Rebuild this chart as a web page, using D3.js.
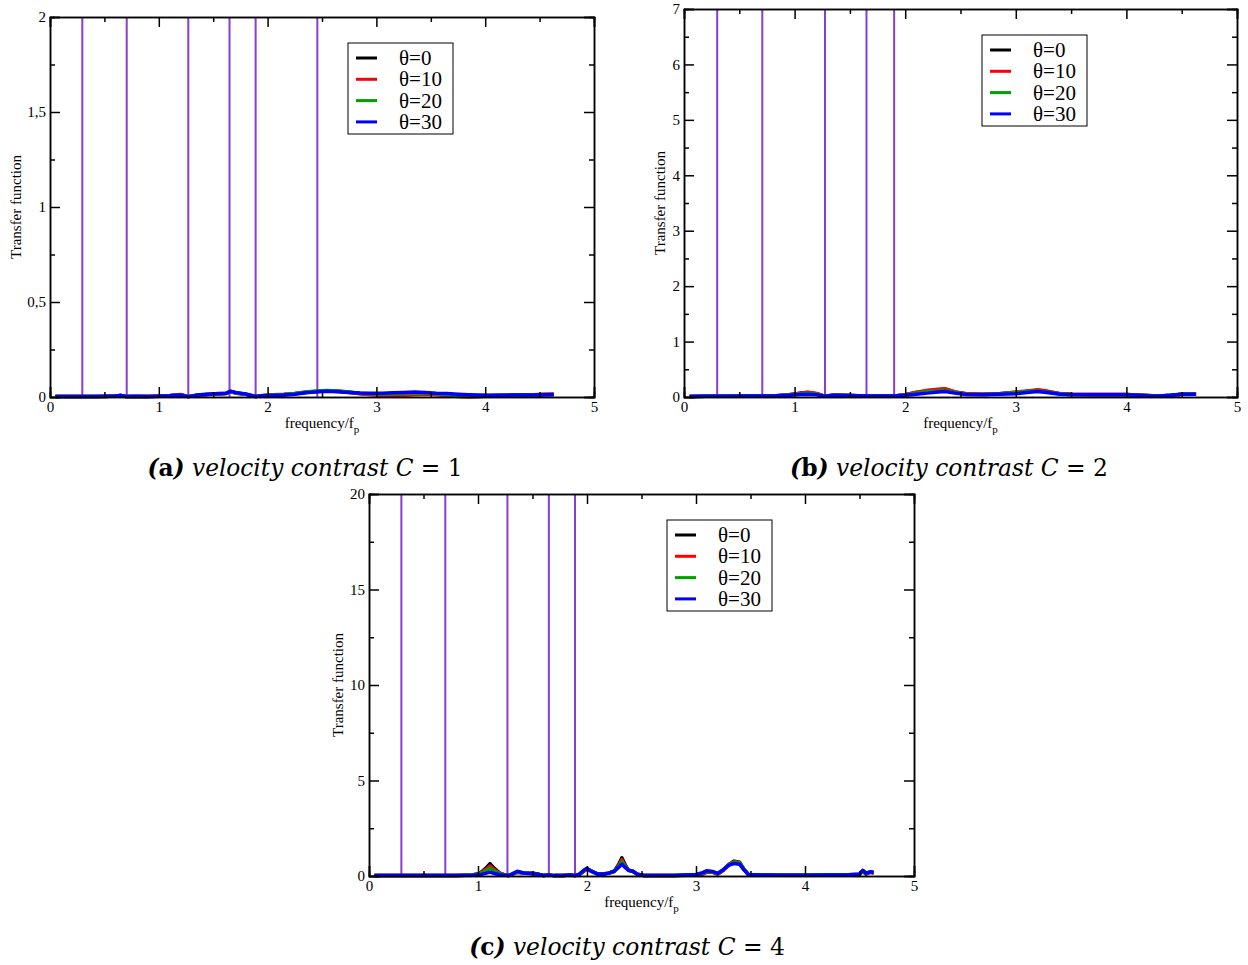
<!DOCTYPE html>
<html><head><meta charset="utf-8">
<script src="https://cdn.jsdelivr.net/npm/d3@7"></script>
<style>body{margin:0;background:#fff}svg{display:block}</style>
</head><body>
<svg id="chart" width="1248" height="965"></svg>
<script>
// ---------- DATA ----------
const seriesNames = ["θ=0", "θ=10", "θ=20", "θ=30"];
const seriesColors = ["#000000", "#ff0000", "#00a000", "#0000ff"];

// vertical reference lines (frequency/fp)
const vlinesA = [0.297, 0.705, 1.271, 1.65, 1.89, 2.457];
const vlinesB = [0.30, 0.708, 1.275, 1.65, 1.90];
const vlinesC = [0.297, 0.70, 1.27, 1.65, 1.89];

// panel (a) C = 1
const xA = [0.05,0.1,0.2,0.3,0.4,0.5,0.6,0.65,0.7,0.8,0.9,1.0,1.1,1.2,1.27,1.35,1.45,1.55,1.62,1.66,1.72,1.8,1.89,1.95,2.05,2.15,2.25,2.35,2.45,2.55,2.65,2.75,2.85,2.95,3.05,3.15,3.25,3.35,3.45,3.55,3.65,3.75,3.85,3.95,4.05,4.15,4.25,4.35,4.45,4.55,4.63];
const a0 = [0.002,0.002,0.002,0.002,0.003,0.003,0.005,0.008,0.002,0.003,0.003,0.004,0.007,0.012,0.002,0.009,0.013,0.016,0.019,0.028,0.02,0.014,0.002,0.006,0.009,0.012,0.017,0.024,0.029,0.031,0.03,0.025,0.018,0.014,0.012,0.012,0.013,0.016,0.017,0.016,0.014,0.011,0.008,0.007,0.008,0.009,0.01,0.011,0.012,0.013,0.014];
const a1 = [0.002,0.002,0.002,0.002,0.003,0.003,0.005,0.008,0.002,0.003,0.003,0.005,0.008,0.013,0.002,0.009,0.013,0.016,0.019,0.027,0.02,0.014,0.002,0.008,0.012,0.014,0.018,0.025,0.029,0.031,0.029,0.024,0.017,0.012,0.009,0.008,0.009,0.012,0.014,0.012,0.008,0.003,0.0,0.002,0.005,0.007,0.009,0.011,0.012,0.014,0.015];
const a2 = [0.002,0.002,0.002,0.002,0.003,0.003,0.005,0.008,0.002,0.003,0.003,0.004,0.007,0.011,0.002,0.01,0.014,0.017,0.02,0.029,0.021,0.015,0.002,0.007,0.01,0.013,0.019,0.027,0.032,0.034,0.031,0.026,0.02,0.017,0.016,0.017,0.019,0.021,0.02,0.017,0.013,0.008,0.004,0.003,0.006,0.008,0.009,0.01,0.011,0.012,0.013];
const a3 = [0.003,0.003,0.003,0.003,0.003,0.004,0.005,0.008,0.003,0.004,0.003,0.004,0.006,0.01,0.002,0.01,0.014,0.018,0.02,0.031,0.022,0.016,0.003,0.006,0.008,0.01,0.015,0.022,0.027,0.03,0.028,0.024,0.021,0.02,0.02,0.022,0.024,0.026,0.024,0.02,0.018,0.015,0.012,0.01,0.009,0.009,0.01,0.01,0.011,0.012,0.012];

// panel (b) C = 2
const xB = [0.05,0.2,0.4,0.6,0.8,0.95,1.05,1.12,1.2,1.27,1.35,1.5,1.65,1.8,1.9,2.0,2.1,2.2,2.3,2.36,2.45,2.55,2.7,2.85,3.0,3.1,3.2,3.28,3.4,3.5,3.7,3.9,4.0,4.1,4.2,4.3,4.4,4.5,4.63];
const b0 = [0.01,0.015,0.015,0.02,0.02,0.04,0.07,0.08,0.06,0.015,0.03,0.025,0.02,0.02,0.02,0.04,0.08,0.11,0.13,0.14,0.09,0.06,0.05,0.06,0.08,0.1,0.12,0.1,0.06,0.05,0.045,0.045,0.045,0.035,0.025,0.02,0.03,0.05,0.05];
const b1 = [0.01,0.015,0.015,0.02,0.02,0.04,0.07,0.085,0.065,0.015,0.03,0.025,0.02,0.02,0.02,0.04,0.085,0.12,0.14,0.15,0.09,0.06,0.05,0.06,0.09,0.11,0.13,0.11,0.06,0.05,0.045,0.045,0.045,0.035,0.025,0.015,0.025,0.05,0.055];
const b2 = [0.01,0.015,0.015,0.02,0.02,0.035,0.055,0.065,0.05,0.015,0.03,0.025,0.02,0.02,0.02,0.035,0.07,0.1,0.11,0.12,0.08,0.05,0.045,0.055,0.08,0.1,0.11,0.09,0.055,0.045,0.04,0.04,0.04,0.03,0.025,0.02,0.03,0.05,0.055];
const b3 = [0.01,0.015,0.015,0.02,0.02,0.03,0.045,0.05,0.04,0.015,0.03,0.025,0.02,0.02,0.02,0.03,0.05,0.07,0.09,0.1,0.07,0.045,0.04,0.05,0.06,0.08,0.1,0.08,0.05,0.04,0.04,0.04,0.04,0.03,0.02,0.02,0.03,0.05,0.05];

// panel (c) C = 4
const xC = [0.05,0.2,0.4,0.6,0.8,0.95,1.02,1.07,1.11,1.15,1.2,1.25,1.28,1.32,1.36,1.42,1.5,1.55,1.6,1.65,1.7,1.78,1.85,1.89,1.93,1.97,2.0,2.04,2.1,2.15,2.2,2.25,2.29,2.32,2.35,2.38,2.42,2.46,2.52,2.6,2.8,3.0,3.06,3.1,3.15,3.2,3.25,3.3,3.35,3.4,3.44,3.48,3.6,3.8,4.0,4.2,4.4,4.5,4.53,4.56,4.6,4.63];
const c0 = [0.02,0.02,0.02,0.02,0.03,0.05,0.15,0.4,0.65,0.4,0.15,0.05,0.02,0.1,0.2,0.15,0.15,0.1,0.03,0.05,0.02,0.03,0.05,0.02,0.08,0.25,0.38,0.25,0.1,0.1,0.15,0.25,0.6,0.95,0.6,0.3,0.25,0.1,0.03,0.03,0.03,0.05,0.1,0.2,0.2,0.1,0.3,0.6,0.78,0.72,0.35,0.08,0.05,0.04,0.04,0.05,0.06,0.08,0.25,0.1,0.2,0.15];
const c1 = [0.02,0.02,0.02,0.02,0.03,0.05,0.13,0.34,0.52,0.33,0.13,0.05,0.02,0.1,0.2,0.15,0.14,0.1,0.03,0.05,0.02,0.03,0.05,0.02,0.08,0.26,0.38,0.25,0.1,0.1,0.15,0.25,0.55,0.85,0.55,0.3,0.25,0.1,0.03,0.03,0.03,0.06,0.12,0.22,0.2,0.1,0.3,0.6,0.75,0.7,0.35,0.08,0.05,0.04,0.04,0.05,0.06,0.08,0.27,0.12,0.2,0.16];
const c2 = [0.02,0.02,0.02,0.02,0.03,0.05,0.11,0.27,0.4,0.26,0.11,0.05,0.02,0.12,0.22,0.15,0.13,0.1,0.03,0.05,0.02,0.03,0.05,0.02,0.09,0.28,0.4,0.25,0.1,0.1,0.15,0.25,0.5,0.75,0.5,0.3,0.25,0.1,0.03,0.03,0.03,0.07,0.15,0.25,0.22,0.12,0.32,0.58,0.72,0.68,0.34,0.08,0.05,0.04,0.04,0.05,0.06,0.09,0.28,0.13,0.21,0.18];
const c3 = [0.02,0.02,0.02,0.02,0.03,0.04,0.07,0.14,0.2,0.13,0.07,0.04,0.02,0.13,0.25,0.16,0.12,0.1,0.03,0.05,0.02,0.03,0.05,0.02,0.1,0.3,0.4,0.24,0.1,0.1,0.15,0.25,0.45,0.62,0.45,0.3,0.25,0.1,0.03,0.03,0.03,0.08,0.18,0.28,0.24,0.14,0.33,0.56,0.66,0.62,0.32,0.08,0.05,0.04,0.04,0.05,0.06,0.1,0.3,0.15,0.22,0.2];

// ticks
const xTicks = [0,1,2,3,4,5];
const yTicksA = [0,0.5,1,1.5,2];
const yTicksB = [0,1,2,3,4,5,6,7];
const yTicksC = [0,5,10,15,20];

const captionA = ["(a)", "velocity contrast", "C", "= 1"];
const captionB = ["(b)", "velocity contrast", "C", "= 2"];
const captionC = ["(c)", "velocity contrast", "C", "= 4"];

// ---------- DRAW ----------
const svg = d3.select("#chart");
const serif = "'Liberation Serif','Times New Roman',serif";
const capFont = "'DejaVu Serif',serif";

function panel(cfg){
  const {left, right, top, bottom, ymax, yTicks, yMinorStep, xs, ys, vlines, caption, capX, capY, capW, fmt, ylabX} = cfg;
  const x = d3.scaleLinear().domain([0,5]).range([left,right]);
  const y = d3.scaleLinear().domain([0,ymax]).range([bottom,top]);
  const g = svg.append("g");

  // vertical lines
  g.selectAll(".vl").data(vlines).enter().append("line")
    .attr("x1", d=>x(d)).attr("x2", d=>x(d)).attr("y1", y(0)).attr("y2", y(ymax))
    .attr("stroke", "#8a3dcf").attr("stroke-width", 2);

  // data lines
  const line = d3.line().x((d,i)=>x(xs[i])).y(d=>y(d));
  ys.forEach((s,k)=>{
    g.append("path").datum(s).attr("d", line).attr("fill","none")
      .attr("stroke", seriesColors[k]).attr("stroke-width", 3.5).attr("stroke-linejoin","round");
  });

  // axes: ticks inward on all four sides
  const xMinor = d3.range(0.5,5,1);
  const yMinor = d3.range(yMinorStep, ymax, yMinorStep*2);
  const axB = d3.axisBottom(x).tickValues(xTicks).tickSize(-10).tickPadding(4).tickFormat(d3.format("d"));
  const axT = d3.axisTop(x).tickValues(xTicks).tickSize(-10).tickFormat("");
  const axL = d3.axisLeft(y).tickValues(yTicks).tickSize(-10).tickPadding(4).tickFormat(fmt);
  const axR = d3.axisRight(y).tickValues(yTicks).tickSize(-10).tickFormat("");
  const mB = d3.axisBottom(x).tickValues(xMinor).tickSize(-5).tickFormat("");
  const mT = d3.axisTop(x).tickValues(xMinor).tickSize(-5).tickFormat("");
  const mL = d3.axisLeft(y).tickValues(yMinor).tickSize(-5).tickFormat("");
  const mR = d3.axisRight(y).tickValues(yMinor).tickSize(-5).tickFormat("");
  const addAx = (ax, tx, ty) => {
    const a = g.append("g").attr("transform",`translate(${tx},${ty})`).call(ax);
    a.selectAll("path,line").attr("stroke","#000").attr("stroke-width",1.5);
    a.selectAll("text").style("font-family", serif).style("font-size", "15px").attr("fill","#000");
    return a;
  };
  addAx(mB,0,bottom); addAx(mT,0,top); addAx(mL,left,0); addAx(mR,right,0);
  addAx(axB,0,bottom); addAx(axT,0,top); addAx(axL,left,0); addAx(axR,right,0);

  // axis labels
  g.append("text").attr("transform",`translate(${ylabX+5},${(top+bottom)/2}) rotate(-90)`)
    .attr("text-anchor","middle").style("font-family",serif).style("font-size","15px").text("Transfer function");
  const xl = g.append("text").attr("x",(left+right)/2).attr("y",bottom+31)
    .attr("text-anchor","middle").style("font-family",serif).style("font-size","15px");
  xl.append("tspan").text("frequency/f");
  xl.append("tspan").attr("dy",5).style("font-size","11px").text("p");

  // legend
  const lx = left+298, ly = top+26;
  const lg = g.append("g").attr("transform",`translate(${lx},${ly})`);
  lg.append("rect").attr("width",105).attr("height",91).attr("fill","#fff").attr("stroke","#000").attr("stroke-width",1);
  seriesNames.forEach((n,k)=>{
    const cy = 15 + k*21.3;
    lg.append("line").attr("x1",8).attr("x2",29).attr("y1",cy).attr("y2",cy)
      .attr("stroke",seriesColors[k]).attr("stroke-width",3);
    lg.append("text").attr("x",51).attr("y",cy+7).style("font-family",serif).style("font-size","21px").text(n);
  });

  // caption
  const ct = svg.append("text").attr("x",capX).attr("y",capY).attr("text-anchor","middle")
    .style("font-family",capFont).style("font-size","20px");
  const lab = ct.append("tspan").attr("font-weight","bold");
  lab.append("tspan").attr("font-style","italic").text("(");
  lab.append("tspan").text(caption[0].slice(1,-1));
  lab.append("tspan").attr("font-style","italic").text(")");
  ct.append("tspan").attr("font-style","italic").text(" " + caption[1] + " ");
  ct.append("tspan").attr("font-style","italic").text(caption[2]);
  ct.append("tspan").text(" " + caption[3]);
  const w = ct.node().getComputedTextLength();
  ct.style("font-size", (20*capW/w).toFixed(2)+"px");
}

const commaFmt = d => d3.format("")(d).replace(".", ",");

panel({left:50,right:594,top:17,bottom:397,ymax:2,yTicks:yTicksA,yMinorStep:0.25,ylabX:16,
  xs:xA, ys:[a0,a1,a2,a3], vlines:vlinesA, caption:captionA, capX:305, capY:476, capW:315, fmt:commaFmt});
panel({left:684,right:1237,top:9,bottom:397,ymax:7,yTicks:yTicksB,yMinorStep:0.5,ylabX:660,
  xs:xB, ys:[b0,b1,b2,b3], vlines:vlinesB, caption:captionB, capX:949, capY:476, capW:318, fmt:d3.format("d")});
panel({left:369,right:914,top:494,bottom:876,ymax:20,yTicks:yTicksC,yMinorStep:2.5,ylabX:338,
  xs:xC, ys:[c0,c1,c2,c3], vlines:vlinesC, caption:captionC, capX:627, capY:955, capW:316, fmt:d3.format("d")});
</script>
</body></html>
